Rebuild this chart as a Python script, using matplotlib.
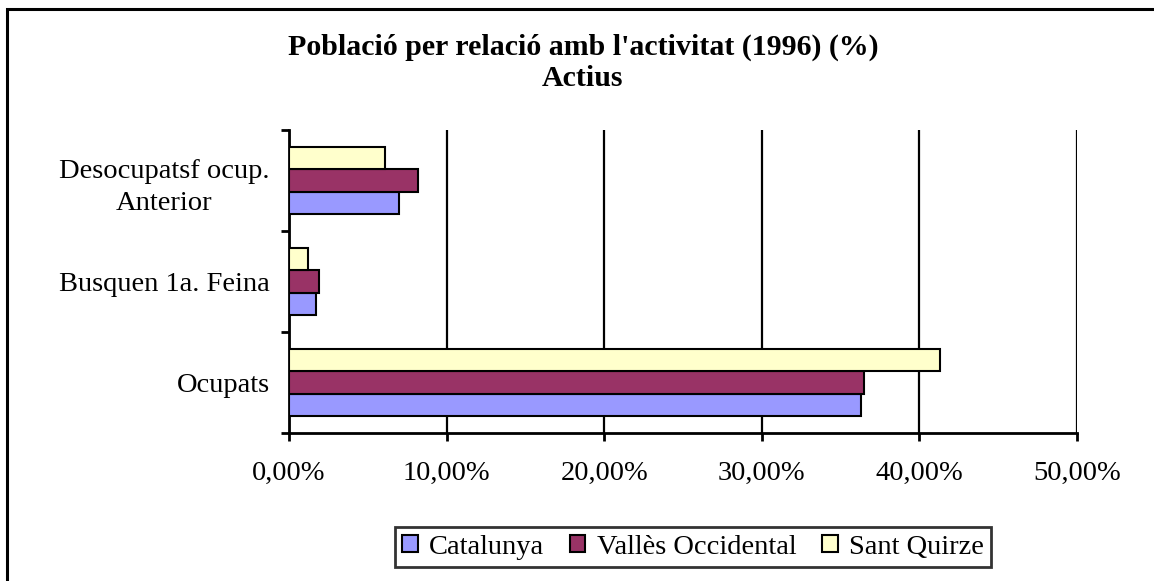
import matplotlib.pyplot as plt
import matplotlib.patches as mpatches
import numpy as np

categories = ["Ocupats", "Busquen 1a. Feina", "Desocupatsf ocup.\nAnterior"]
series = ["Catalunya", "Vallès Occidental", "Sant Quirze"]
catalunya = [36.3, 1.7, 7.0]
valles = [36.5, 1.9, 8.2]
sant_quirze = [41.3, 1.2, 6.1]
colors = ["#9999FF", "#993366", "#FFFFCC"]
xticks = [0, 10, 20, 30, 40, 50]

plt.rcParams['font.family'] = ['Liberation Serif', 'DejaVu Serif']

fig = plt.figure(figsize=(11.54, 5.81), dpi=100)
ax = fig.add_axes([289 / 1154, 1 - 433 / 581, 788 / 1154, 303 / 581])

y = np.arange(len(categories))
h = 0.223
for i, (vals, name) in enumerate(zip([catalunya, valles, sant_quirze], series)):
    ax.barh(y + (i - 1) * h, vals, height=h, color=colors[i], edgecolor='black',
            linewidth=1.5, label=name, zorder=3)

ax.set_xlim(0, 50)
ax.set_ylim(-0.5, 2.5)
ax.set_xticks(xticks)
ax.set_xticklabels(["%d,00%%" % v for v in xticks], fontsize=20.5)
ax.set_yticks(y)
ax.set_yticklabels(categories, fontsize=20.5, multialignment='center',
                   linespacing=1.4)
ax.set_yticks([-0.5, 0.5, 1.5, 2.5], minor=True)
ax.tick_params(axis='y', which='major', length=0, pad=14)
ax.tick_params(axis='y', which='minor', length=6, width=2, direction='out')
ax.tick_params(axis='x', length=6, width=2, direction='out', pad=14)
ax.xaxis.grid(True, color='black', linewidth=1.6, zorder=0)
for s in ['top', 'right']:
    ax.spines[s].set_visible(False)
for s in ['left', 'bottom']:
    ax.spines[s].set_linewidth(2)

fig.text(583 / 1154, 1 - 47 / 581, "Població per relació amb l'activitat (1996) (%)",
         ha='center', va='center', fontsize=21.5, fontweight='bold')
fig.text(583 / 1154, 1 - 78 / 581, "Actius", ha='center', va='center',
         fontsize=21.5, fontweight='bold')

leg = fig.legend(loc='center', bbox_to_anchor=(693 / 1154, 1 - 547 / 581), ncol=3,
                 fontsize=20.5, frameon=True, fancybox=False, handlelength=0.55,
                 handleheight=0.55, handletextpad=0.4, columnspacing=0.9,
                 borderpad=0.25, borderaxespad=0)
leg.get_frame().set_edgecolor('black')
leg.get_frame().set_linewidth(2)

fig.patches.append(mpatches.Rectangle((7 / 1154, -0.1), 1.2, 1 - 9 / 581 + 0.1,
                                      transform=fig.transFigure, fill=False,
                                      edgecolor='black', linewidth=2.2))

fig.savefig("out.png", dpi=100)
